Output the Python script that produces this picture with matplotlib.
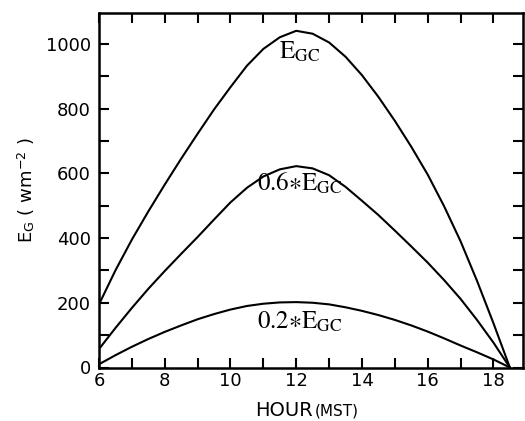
import numpy as np
from matplotlib import pyplot as plt

# hours (every half hour), sunset at 18.5
hours = [6, 6.5, 7, 7.5, 8, 8.5, 9, 9.5, 10, 10.5, 11, 11.5, 12, 12.5,
         13, 13.5, 14, 14.5, 15, 15.5, 16, 16.5, 17, 17.5, 18, 18.5]

# global irradiance, clear sky (w m^-2)
egc = [195, 300, 395, 482, 565, 645, 722, 797, 866, 932, 984, 1020, 1040, 1031,
       1004, 960, 903, 836, 762, 682, 596, 498, 390, 268, 137, 0]
# 0.6 * EGC
egc06 = [57, 122, 184, 243, 298, 351, 403, 457, 510, 555, 590, 612, 622, 615,
         594, 558, 515, 471, 423, 374, 324, 270, 212, 147, 77, 0]
# 0.2 * EGC
egc02 = [10, 38, 64, 88, 110, 130, 149, 165, 179, 190, 197, 201, 202, 200,
         195, 186, 175, 162, 147, 130, 111, 90, 68, 47, 25, 0]

label_pos = [(12.1, 975), (12.1, 568), (12.1, 140)]

plt.rcParams['mathtext.fontset'] = 'stix'

fig = plt.figure(figsize=(5.25, 4.21), dpi=100)
ax = fig.add_axes([99/525, 1 - 367.5/421, 424/525, 354.5/421])

for y in (egc, egc06, egc02):
    ax.plot(hours, y, color='black', lw=1.5)

texts = [r'$\mathrm{E}_{\mathrm{GC}}$', r'$0.6{\ast}\mathrm{E}_{\mathrm{GC}}$',
         r'$0.2{\ast}\mathrm{E}_{\mathrm{GC}}$']
for t, (x, y) in zip(texts, label_pos):
    ax.text(x, y, t, ha='center', va='center', fontsize=18)

ax.set_xlim(6, 18.9)
ax.set_ylim(0, 1095)
ax.set_xticks(np.arange(6, 19, 2))
ax.set_xticks(np.arange(6, 19, 1), minor=True)
ax.set_yticks(np.arange(0, 1001, 200))
ax.set_yticks(np.arange(0, 1001, 100), minor=True)

ax.tick_params(which='both', direction='in', top=True, right=True,
               length=7.5, width=1.5, labelsize=13)
ax.tick_params(axis='x', pad=3)
ax.tick_params(axis='y', pad=6)
for s in ax.spines.values():
    s.set_linewidth(1.8)

ax.set_ylabel(r'E$_\mathregular{G}$ ( wm$^\mathregular{-2}$ )', fontsize=13,
              labelpad=6)
ax.text(0.505, -0.12, 'HOUR', transform=ax.transAxes, ha='right', va='center',
        fontsize=14)
ax.text(0.51, -0.123, '(MST)', transform=ax.transAxes, ha='left', va='center',
        fontsize=11)

fig.savefig('out.png', dpi=100)
